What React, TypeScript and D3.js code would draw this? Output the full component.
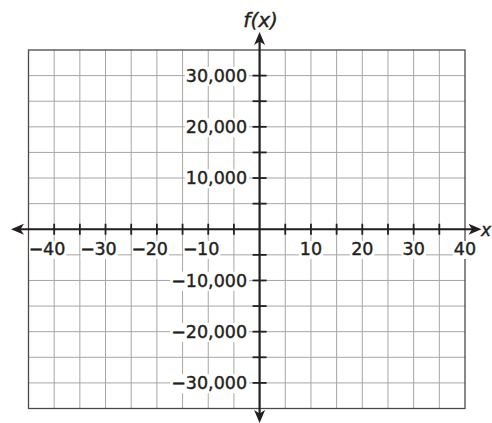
import React, { useEffect, useRef } from 'react';
import * as d3 from 'd3';

const xDomain = [-45, 40];
const yDomain = [-35000, 35000];
const xStep = 5;
const yStep = 5000;
const xLabels = [-40, -30, -20, -10, 10, 20, 30, 40];
const yLabels = [-30000, -20000, -10000, 10000, 20000, 30000];
const xTitle = 'x';
const yTitle = 'f(x)';

const W = 492;
const H = 423;
const ink = '#231f20';
const font = '"DejaVu Sans", sans-serif';

function App() {
    const svgRef = useRef<SVGSVGElement>(null);

    useEffect(() => {
        const svg = d3.select(svgRef.current);
        svg.selectAll('*').remove();

        const x = d3.scaleLinear().domain(xDomain).range([28.5, 465]);
        const y = d3.scaleLinear().domain(yDomain).range([408.5, 50]);
        const x0 = x(0);
        const y0 = y(0);

        // grid
        const grid = svg.append('g');
        grid.selectAll(null)
            .data(d3.range(xDomain[0] + xStep, xDomain[1], xStep))
            .join('line')
            .attr('x1', d => x(d)).attr('x2', d => x(d))
            .attr('y1', y(yDomain[1])).attr('y2', y(yDomain[0]))
            .attr('stroke', '#a6a6a6').attr('stroke-width', 1);
        grid.selectAll(null)
            .data(d3.range(yDomain[0] + yStep, yDomain[1], yStep))
            .join('line')
            .attr('y1', d => y(d)).attr('y2', d => y(d))
            .attr('x1', x(xDomain[0])).attr('x2', x(xDomain[1]))
            .attr('stroke', '#a6a6a6').attr('stroke-width', 1);
        grid.append('rect')
            .attr('x', x(xDomain[0])).attr('y', y(yDomain[1]))
            .attr('width', x(xDomain[1]) - x(xDomain[0]))
            .attr('height', y(yDomain[0]) - y(yDomain[1]))
            .attr('fill', 'none').attr('stroke', '#4a4a4a').attr('stroke-width', 1.3);

        // labels with white backing
        const fmt = d3.format(',');
        const labels = svg.append('g')
            .style('font-family', font)
            .style('font-size', '17.5px')
            .attr('fill', ink)
            .attr('stroke', ink)
            .attr('stroke-width', 0.4);

        xLabels.forEach(v => {
            const g = labels.append('g');
            const bg = g.append('rect').attr('fill', 'white').attr('stroke', 'none');
            const num = g.append('text')
                .attr('x', x(v)).attr('y', y0 + 25.7)
                .attr('text-anchor', 'middle')
                .text(fmt(Math.abs(v)));
            const nb = (num.node() as SVGTextElement).getBBox();
            let left = nb.x;
            if (v < 0) {
                const dash = g.append('text')
                    .attr('x', nb.x + 0.5).attr('y', y0 + 25.7)
                    .attr('text-anchor', 'end')
                    .text('\u2212');
                left = (dash.node() as SVGTextElement).getBBox().x + 1.5;
            }
            bg.attr('x', left - 1).attr('y', nb.y + 2)
                .attr('width', nb.x + nb.width - left + 2)
                .attr('height', nb.height - 2);
        });

        yLabels.forEach(v => {
            const g = labels.append('g');
            const bg = g.append('rect').attr('fill', 'white').attr('stroke', 'none');
            const t = g.append('text')
                .attr('x', x0 - 12.5).attr('y', y(v))
                .attr('dy', '0.36em')
                .attr('text-anchor', 'end')
                .text(fmt(v));
            const b = (t.node() as SVGTextElement).getBBox();
            bg.attr('x', b.x - 1).attr('y', b.y + 1)
                .attr('width', b.width + 3).attr('height', b.height - 1);
        });

        // axes
        const axes = svg.append('g').attr('stroke', ink);
        axes.append('line')
            .attr('x1', 18).attr('x2', 476).attr('y1', y0).attr('y2', y0)
            .attr('stroke-width', 2.2);
        axes.append('line')
            .attr('x1', x0).attr('x2', x0).attr('y1', 38).attr('y2', 417)
            .attr('stroke-width', 2.2);
        axes.selectAll(null)
            .data(d3.range(xDomain[0] + xStep, xDomain[1], xStep).filter(d => d !== 0))
            .join('line')
            .attr('x1', d => x(d)).attr('x2', d => x(d))
            .attr('y1', y0 - 5.5).attr('y2', y0 + 5.5)
            .attr('stroke-width', 1.8);
        axes.selectAll(null)
            .data(d3.range(yDomain[0] + yStep, yDomain[1], yStep).filter(d => d !== 0))
            .join('line')
            .attr('y1', d => y(d)).attr('y2', d => y(d))
            .attr('x1', x0 - 7).attr('x2', x0 + 7)
            .attr('stroke-width', 1.8);

        const arrow = 'M0,0 L-13,-5.5 L-9.5,0 L-13,5.5 Z';
        const heads = [
            { tx: 481.5, ty: y0, r: 0 },
            { tx: 11, ty: y0, r: 180 },
            { tx: x0, ty: 32, r: -90 },
            { tx: x0, ty: 423, r: 90 },
        ];
        svg.append('g').selectAll(null)
            .data(heads)
            .join('path')
            .attr('d', arrow)
            .attr('transform', d => `translate(${d.tx},${d.ty}) rotate(${d.r})`)
            .attr('fill', ink);

        // axis titles
        const titles = svg.append('g')
            .style('font-family', font)
            .style('font-style', 'italic')
            .attr('fill', ink)
            .attr('stroke', ink)
            .attr('stroke-width', 0.4);
        titles.append('text')
            .attr('x', x0 + 1).attr('y', 27)
            .attr('text-anchor', 'middle')
            .style('font-size', '20px')
            .text(yTitle);
        titles.append('text')
            .attr('x', 481).attr('y', 236)
            .style('font-size', '17px')
            .text(xTitle);
    }, []);

    return (
        <svg ref={svgRef} width={W} height={H}
            style={{ position: 'absolute', left: 0, top: 0, background: 'white' }} />
    );
}

export default App;
